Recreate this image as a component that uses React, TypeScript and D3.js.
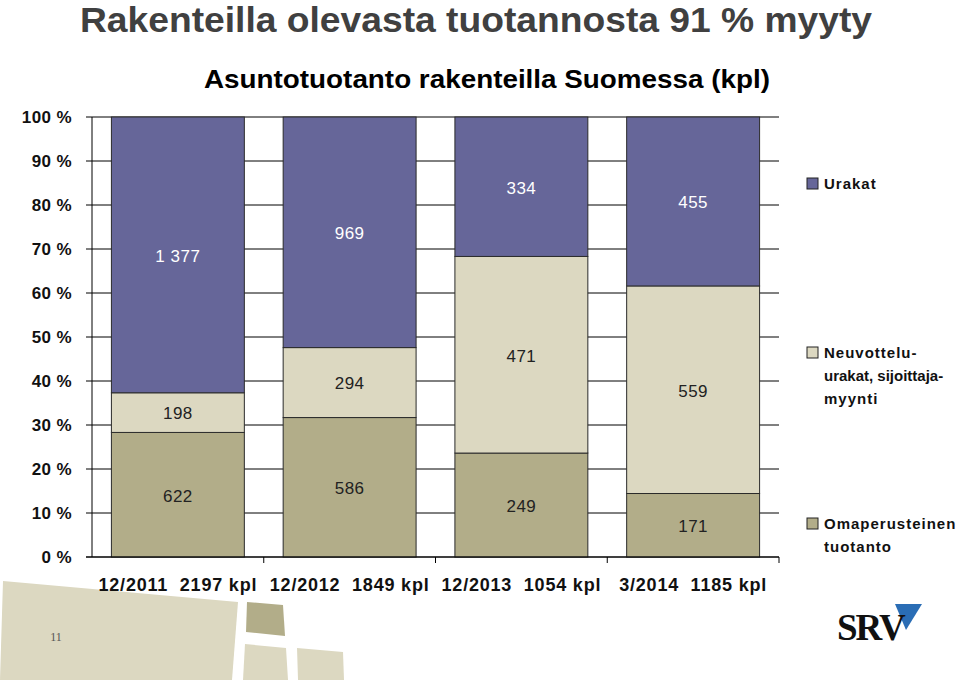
import * as d3 from "d3";

const categories = ["12/2011", "12/2012", "12/2013", "3/2014"];
const totals = [2197, 1849, 1054, 1185];
const omaperusteinen = [622, 586, 249, 171];
const neuvottelu = [198, 294, 471, 559];
const urakat = [1377, 969, 334, 455];
const yTicks = [0, 0.1, 0.2, 0.3, 0.4, 0.5, 0.6, 0.7, 0.8, 0.9, 1];

const seriesKeys = ["oma", "neuvo", "urakat"];
const seriesColor: Record<string, string> = {
  oma: "#b2ad89",
  neuvo: "#dcd8c1",
  urakat: "#666699",
};
const labelColor: Record<string, string> = {
  oma: "#222",
  neuvo: "#222",
  urakat: "#ffffff",
};
const legendItems = [
  { key: "urakat", lines: ["Urakat"], y: 184 },
  { key: "neuvo", lines: ["Neuvottelu-", "urakat, sijoittaja-", "myynti"], y: 353 },
  { key: "oma", lines: ["Omaperusteinen", "tuotanto"], y: 524 },
];

const W = 960;
const H = 680;
const left = 92;
const right = 779;
const top = 117;
const bottom = 557;

export default function App() {
  const rows = categories.map((c, i) => ({
    cat: c,
    oma: omaperusteinen[i],
    neuvo: neuvottelu[i],
    urakat: urakat[i],
  }));

  const stacked = d3
    .stack<any>()
    .keys(seriesKeys)
    .offset(d3.stackOffsetExpand)(rows);

  const x = d3
    .scaleBand<string>()
    .domain(categories)
    .range([left, right])
    .paddingInner(0.226)
    .paddingOuter(0.113);
  const y = d3.scaleLinear().domain([0, 1]).range([bottom, top]);
  const step = x.step();

  const font = "'Liberation Sans', Arial, sans-serif";

  return (
    <svg
      width={W}
      height={H}
      style={{ position: "absolute", left: 0, top: 0 }}
      fontFamily={font}
    >
      <rect width={W} height={H} fill="#fff" />

      {/* decorative shapes bottom left */}
      <polygon points="3,581 238,602 232,680 0,680" fill="#dcd8c1" />
      <polygon points="247,602 283,605 285,636 246,632" fill="#b2ad89" />
      <polygon points="245,644 286,648 288,680 243,680" fill="#dcd8c1" />
      <polygon points="297,648 343,652 344,680 298,680" fill="#dcd8c1" />
      <text x={56} y={641} fontFamily="'Liberation Serif', serif" fontSize={12} fill="#555" textAnchor="middle">
        11
      </text>

      {/* titles */}
      <text x={80} y={32} fontSize={35} fontWeight="bold" fill="#404040" textLength={792} lengthAdjust="spacingAndGlyphs">
        Rakenteilla olevasta tuotannosta 91 % myyty
      </text>
      <text x={204} y={88} fontSize={26} fontWeight="bold" fill="#000" textLength={566} lengthAdjust="spacingAndGlyphs">
        Asuntotuotanto rakenteilla Suomessa (kpl)
      </text>

      {/* gridlines + y ticks */}
      {yTicks.map((t) => (
        <g key={t}>
          <line x1={left - 6} x2={right} y1={y(t)} y2={y(t)} stroke="#000" strokeWidth={1} />
          <text
            x={72}
            y={y(t)}
            dy="0.35em"
            textAnchor="end"
            fontSize={17}
            fontWeight="bold"
            letterSpacing={0.4}
            fill="#111"
          >
            {Math.round(t * 100) + " %"}
          </text>
        </g>
      ))}
      <line x1={left} x2={left} y1={top} y2={bottom} stroke="#000" />

      {/* bars */}
      {stacked.map((s) =>
        s.map((d, i) => (
          <rect
            key={s.key + i}
            x={x(categories[i])}
            width={x.bandwidth()}
            y={y(d[1])}
            height={y(d[0]) - y(d[1])}
            fill={seriesColor[s.key]}
            stroke="#2b2b2b"
            strokeWidth={1}
          />
        ))
      )}

      {/* segment labels */}
      {stacked.map((s) =>
        s.map((d, i) => (
          <text
            key={"l" + s.key + i}
            x={(x(categories[i]) as number) + x.bandwidth() / 2}
            y={(y(d[0]) + y(d[1])) / 2}
            dy="0.4em"
            textAnchor="middle"
            fontSize={17}
            letterSpacing={0.5}
            fill={labelColor[s.key]}
          >
            {d3.format(",")((d.data as any)[s.key]).replace(",", " ")}
          </text>
        ))
      )}

      {/* x axis */}
      <line x1={left - 6} x2={right} y1={bottom} y2={bottom} stroke="#000" />
      {categories.map((c, i) => (
        <g key={c}>
          <line
            x1={left + step * (i + 1)}
            x2={left + step * (i + 1)}
            y1={bottom}
            y2={bottom + 6}
            stroke="#000"
          />
          <text
            x={(x(c) as number) + x.bandwidth() / 2}
            y={591}
            textAnchor="middle"
            fontSize={18}
            fontWeight="bold"
            letterSpacing={0.8}
            fill="#111"
            style={{ whiteSpace: "pre" }}
          >
            {c + "  " + totals[i] + " kpl"}
          </text>
        </g>
      ))}

      {/* legend */}
      {legendItems.map((it) => (
        <g key={it.key}>
          <rect x={807} y={it.y - 6} width={11} height={11} fill={seriesColor[it.key]} stroke="#222" />
          {it.lines.map((ln, j) => (
            <text
              key={ln}
              x={824}
              y={it.y + j * 23}
              dy="0.35em"
              fontSize={15}
              fontWeight="bold"
              letterSpacing={ln.length > 15 ? 0 : 1}
              fill="#111"
            >
              {ln}
            </text>
          ))}
        </g>
      ))}

      {/* SRV logo */}
      <polygon points="895,604 922,604 906,630" fill="#2a6db5" />
      <text x={837} y={640} fontFamily="'Liberation Serif', 'DejaVu Serif', serif" fontSize={37} fontWeight="bold" fill="#111" letterSpacing={-2}>
        SRV
      </text>
    </svg>
  );
}
